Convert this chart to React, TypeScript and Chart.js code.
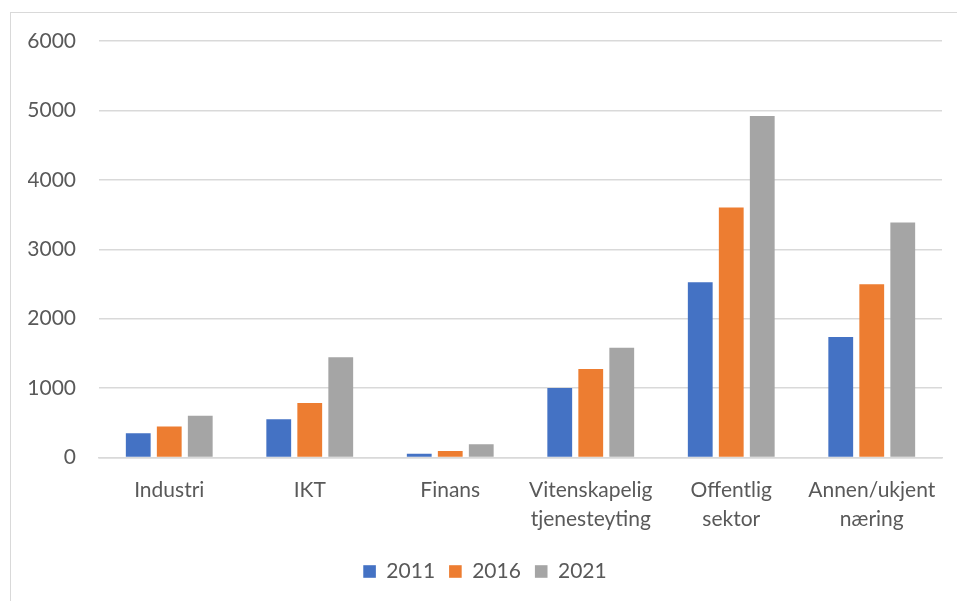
import React, { useEffect, useRef } from "react";
import { Chart, registerables } from "chart.js";

Chart.register(...registerables);

const categories: (string | string[])[] = [
  "Industri",
  "IKT",
  "Finans",
  ["Vitenskapelig", "tjenesteyting"],
  ["Offentlig", "sektor"],
  ["Annen/ukjent", "næring"],
];
const series2011 = [350, 550, 55, 1000, 2525, 1735];
const series2016 = [445, 785, 95, 1275, 3600, 2495];
const series2021 = [600, 1445, 190, 1580, 4920, 3385];
const yTicks = [0, 1000, 2000, 3000, 4000, 5000, 6000];

const FONT = "Lato, 'Open Sans', sans-serif";
const TEXT = "#595959";
const GRID = "#d9d9d9";

export default function App() {
  const ref = useRef<HTMLCanvasElement | null>(null);
  useEffect(() => {
    if (!ref.current) return;
    const chart = new Chart(ref.current, {
      type: "bar",
      data: {
        labels: categories,
        datasets: [
          { label: "2011", data: series2011, backgroundColor: "#4472C4" },
          { label: "2016", data: series2016, backgroundColor: "#ED7D31" },
          { label: "2021", data: series2021, backgroundColor: "#A5A5A5" },
        ],
      },
      options: {
        responsive: false,
        animation: false,
        devicePixelRatio: 1,
        datasets: { bar: { categoryPercentage: 0.662, barPercentage: 0.8 } },
        layout: { padding: { left: 28, right: 15, top: 41, bottom: 9 } },
        plugins: {
          tooltip: { enabled: false },
          legend: {
            position: "bottom",
            labels: {
              boxWidth: 12.6,
              boxHeight: 12.6,
              padding: 14,
              color: TEXT,
              font: { family: FONT, size: 21 },
            },
          },
        },
        scales: {
          x: {
            grid: { display: false, drawTicks: false },
            border: { display: true, color: GRID, width: 1.5 },
            ticks: {
              color: TEXT,
              padding: 18,
              maxRotation: 0,
              autoSkip: false,
              font: { family: FONT, size: 21, lineHeight: 1.4 },
            },
            afterFit: (s: any) => {
              s.height = 89.5;
            },
          },
          y: {
            min: 0,
            max: 6000,
            afterBuildTicks: (s: any) => {
              s.ticks = yTicks.map((v) => ({ value: v }));
            },
            grid: { color: GRID, lineWidth: 1.5, drawTicks: false },
            border: { display: false },
            ticks: {
              color: TEXT,
              padding: 23,
              font: { family: FONT, size: 21 },
              callback: (v: any) => String(v),
            },
            afterFit: (s: any) => {
              s.width = 71;
            },
          },
        },
      },
    });
    return () => chart.destroy();
  }, []);
  return (
    <div style={{ position: "fixed", left: 0, top: 0, width: 957, height: 601, background: "#fff", overflow: "hidden" }}>
      <div style={{ position: "absolute", left: 10, top: 12, width: 1000, height: 700, border: "1px solid #d9d9d9", boxSizing: "border-box" }} />
      <canvas ref={ref} width={957} height={601} style={{ position: "absolute", left: 0, top: 0 }} />
    </div>
  );
}
